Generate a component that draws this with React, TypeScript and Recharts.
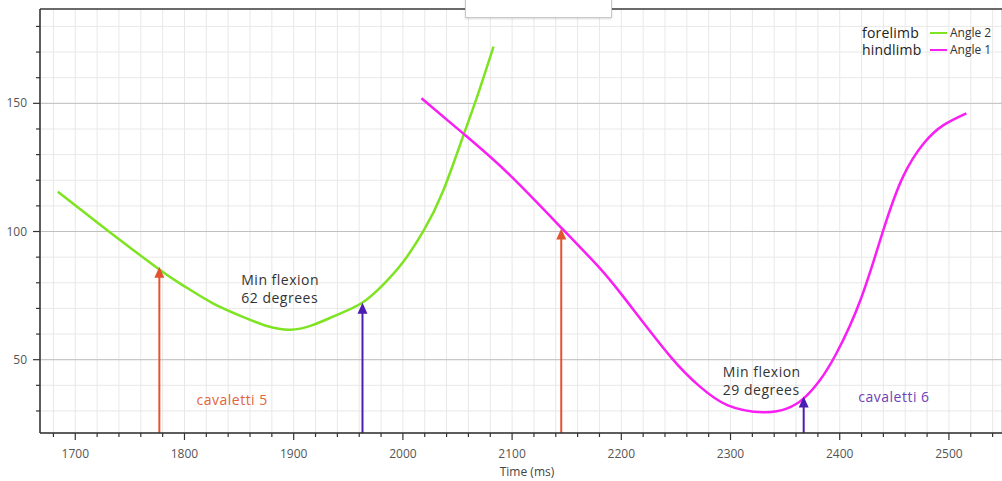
import React from 'react';
import {
  LineChart,
  Line,
  XAxis,
  YAxis,
  CartesianGrid,
  ReferenceLine,
  ReferenceDot,
  Legend
} from 'recharts';

const X_MIN = 1667.7;
const X_MAX = 2548.6;
const Y_MIN = 21.4;
const Y_MAX = 186.8;

// forelimb (Angle 2)
const foreTime = [1684, 1729, 1776, 1799, 1826, 1857, 1897, 1936, 1962, 1982, 2000, 2019, 2037, 2055, 2068, 2083];
const foreAngle = [115.5, 100.6, 85.5, 78.9, 72.0, 66.1, 61.7, 66.8, 72.0, 79.3, 88.0, 100.3, 116.0, 137.0, 152.6, 172.1];

// hindlimb (Angle 1)
const hindTime = [2017, 2057, 2098, 2147, 2178, 2202, 2245, 2272, 2297, 2330, 2352, 2367, 2382, 2397, 2419, 2440, 2458, 2477, 2495, 2516];
const hindAngle = [152.0, 137.6, 122.0, 100.6, 86.8, 74.5, 51.2, 39.5, 32.3, 29.5, 31.0, 34.9, 42.1, 52.5, 73.3, 100.6, 121.4, 134.4, 141.5, 146.1];

const xMajor = [1700, 1800, 1900, 2000, 2100, 2200, 2300, 2400, 2500];
const yMajor = [50, 100, 150];
const xMinor = Array.from({ length: 44 }, (_, i) => 1680 + i * 20);
const yMinor = Array.from({ length: 16 }, (_, i) => 30 + i * 10);

// arrows: cavaletti start (orange) / min flexion (purple)
const arrowTime = [1777, 1963, 2145, 2367];
const arrowAngle = [86.3, 72.2, 101.2, 35.6];
const arrowKind = ['cav', 'min', 'cav', 'min'];

const noteText = ['Min flexion', '62 degrees', 'cavaletti 5', 'Min flexion', '29 degrees', 'cavaletti 6'];
const noteTime = [1852, 1852, 1811, 2293, 2293, 2417];
const noteAngle = [79.1, 72.1, 32.3, 43.3, 36.2, 33.5];
const noteKind = ['text', 'text', 'cav', 'text', 'text', 'min'];

const seriesName = ['Angle 2', 'Angle 1'];
const seriesLimb = ['forelimb', 'hindlimb'];

const foreData = foreTime.map((t, i) => ({ t, v: foreAngle[i] }));
const hindData = hindTime.map((t, i) => ({ t, v: hindAngle[i] }));

const GREEN = '#7ee321';
const MAGENTA = '#f81ef4';
const arrowColors: Record<string, string> = { cav: '#e2532f', min: '#4b1db0' };
const noteColors: Record<string, string> = { text: '#333', cav: '#e2643c', min: '#6f3fb8' };
const FONT = '"Open Sans", "Noto Sans", sans-serif';

const XTick = (props: any) => {
  const { x, y, payload } = props;
  const major = xMajor.includes(payload.value);
  return (
    <g>
      <line x1={x} x2={x} y1={y} y2={y + (major ? 7 : 4)} stroke="#333" strokeWidth={1.2} />
      {major && (
        <text x={x} y={y + 25} textAnchor="middle" fontSize={12} fill="#555" fontFamily={FONT}>
          {payload.value}
        </text>
      )}
    </g>
  );
};

const YTick = (props: any) => {
  const { x, y, payload } = props;
  const major = yMajor.includes(payload.value);
  return (
    <g>
      <line x1={x - (major ? 7 : 4)} x2={x} y1={y} y2={y} stroke="#333" strokeWidth={1.2} />
      {major && (
        <text x={x - 13} y={y + 4} textAnchor="end" fontSize={12} fill="#555" fontFamily={FONT}>
          {payload.value}
        </text>
      )}
    </g>
  );
};

const arrowShape = (color: string) => (props: any) => {
  const { x1, y1, x2, y2 } = props;
  return (
    <g>
      <line x1={x1} y1={y1} x2={x2} y2={y2 + 8} stroke={color} strokeWidth={2} />
      <polygon points={`${x2},${y2} ${x2 - 5},${y2 + 11} ${x2 + 5},${y2 + 11}`} fill={color} />
    </g>
  );
};

const LegendBox = () => (
  <div style={{ fontFamily: FONT, lineHeight: '17px' }}>
    {seriesName.map((name, i) => (
      <div key={name} style={{ display: 'flex', alignItems: 'center', whiteSpace: 'nowrap' }}>
        <span style={{ fontSize: 14, color: '#222', width: 68, letterSpacing: 0.2 }}>{seriesLimb[i]}</span>
        <span style={{ display: 'inline-block', width: 17, height: 2, background: i === 0 ? GREEN : MAGENTA, marginRight: 3 }} />
        <span style={{ fontSize: 12, color: '#333' }}>{name}</span>
      </div>
    ))}
  </div>
);

export default function App() {
  return (
    <div style={{ position: 'absolute', left: 0, top: 0, width: 1002, height: 481, fontFamily: FONT, background: '#fff' }}>
      <LineChart width={1002} height={481} margin={{ top: 9, right: 0, left: 0, bottom: 0 }}>
        <XAxis
          dataKey="t"
          type="number"
          domain={[X_MIN, X_MAX]}
          allowDataOverflow
          ticks={xMinor}
          interval={0}
          tick={<XTick />}
          tickLine={false}
          tickSize={0}
          tickMargin={0}
          height={48}
          axisLine={{ stroke: '#333', strokeWidth: 1.5 }}
          label={{ value: 'Time (ms)', position: 'insideBottom', offset: 5, dx: 6, fontSize: 12, fill: '#444' }}
        />
        <YAxis
          type="number"
          domain={[Y_MIN, Y_MAX]}
          allowDataOverflow
          ticks={yMinor}
          interval={0}
          tick={<YTick />}
          tickLine={false}
          tickSize={0}
          tickMargin={0}
          width={40}
          axisLine={{ stroke: '#333', strokeWidth: 1.5 }}
        />
        <XAxis xAxisId="maj" type="number" domain={[X_MIN, X_MAX]} allowDataOverflow ticks={xMajor} hide />
        <YAxis yAxisId="maj" type="number" domain={[Y_MIN, Y_MAX]} allowDataOverflow ticks={yMajor} hide />
        <CartesianGrid stroke="#e8e8e8" strokeWidth={1} />
        <CartesianGrid xAxisId="maj" yAxisId="maj" stroke="#c0c0c0" strokeWidth={1} />
        <ReferenceLine y={Y_MAX} stroke="#444" strokeWidth={1.5} />
        <Legend
          layout="vertical"
          align="center"
          verticalAlign="middle"
          content={<LegendBox />}
          wrapperStyle={{ top: 24, left: 862, width: 140, bottom: 'auto', right: 'auto' }}
        />
        <Line data={foreData} dataKey="v" name={seriesName[0]} type="natural" stroke={GREEN} strokeWidth={2.5} dot={false} isAnimationActive={false} />
        <Line data={hindData} dataKey="v" name={seriesName[1]} type="natural" stroke={MAGENTA} strokeWidth={2.5} dot={false} isAnimationActive={false} />
        {arrowTime.map((t, i) => (
          <ReferenceLine
            key={`arrow-${i}`}
            segment={[{ x: t, y: Y_MIN }, { x: t, y: arrowAngle[i] }]}
            shape={arrowShape(arrowColors[arrowKind[i]])}
          />
        ))}
        {noteText.map((txt, i) => (
          <ReferenceDot
            key={`note-${i}`}
            x={noteTime[i]}
            y={noteAngle[i]}
            r={0}
            shape={(p: any) => (
              <text x={p.cx} y={p.cy} fontSize={14} letterSpacing={0.5} fill={noteColors[noteKind[i]]} fontFamily={FONT}>
                {txt}
              </text>
            )}
          />
        ))}
      </LineChart>
      <div style={{ position: 'absolute', left: 465, top: -1, width: 145, height: 17, background: '#fff', border: '1px solid #c8c8c8', boxShadow: '0 1px 2px rgba(0,0,0,0.15)' }} />
    </div>
  );
}
